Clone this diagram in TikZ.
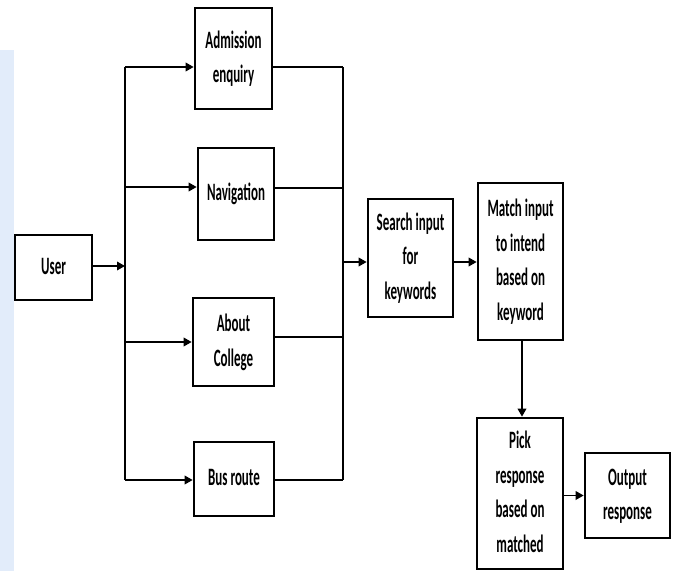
\documentclass[tikz,border=0pt]{standalone}
\usepackage{fontspec}
\setmainfont{Carlito}
\usetikzlibrary{arrows.meta,calc}
\definecolor{wmblue}{RGB}{226,236,250}
\newcommand{\sq}[1]{\scalebox{0.52}[1]{\renewcommand{\arraystretch}{1}\begin{tabular}{@{}c@{}}#1\end{tabular}}}
\tikzset{
  box/.style={draw=black, line width=2.6pt, rectangle, inner sep=0pt, align=center,
    font=\fontsize{25}{34.5}\selectfont\bfseries},
  conn/.style={draw=black, line width=1.8pt},
  arr/.style={conn, -{Triangle[length=8pt,width=8.5pt]}}
}
\begin{document}
\begin{tikzpicture}[x=1pt,y=-1pt]
\useasboundingbox (0,0) rectangle (678,571);
\fill[white] (0,0) rectangle (678,571);
\fill[wmblue] (0,50) rectangle (14,571);
% boxes
\node[box, minimum width=77pt, minimum height=65pt] (user) at (53.5,267.5) {\sq{User}};
\node[box, minimum width=77pt, minimum height=101pt] (adm) at (233.5,58.5) {\sq{Admission\\enquiry}};
\node[box, minimum width=76pt, minimum height=92pt] (nav) at (236,194) {\sq{Navigation}};
\node[box, minimum width=81pt, minimum height=88pt] (abt) at (233.5,342) {\sq{About\\College}};
\node[box, minimum width=80pt, minimum height=74pt] (bus) at (234,479) {\sq{Bus route}};
\node[box, minimum width=85pt, minimum height=118pt] (srch) at (410.5,258) {\sq{Search input\\for\\keywords}};
\node[box, minimum width=85pt, minimum height=157pt] (match) at (520.5,261.5) {\sq{Match input\\to intend\\based on\\keyword}};
\node[box, minimum width=86pt, minimum height=151pt] (pick) at (520,493.5) {\sq{Pick\\response\\based on\\matched}};
\node[box, minimum width=85pt, minimum height=85pt] (out) at (627.5,495.5) {\sq{Output\\response}};
% bus coordinates
\coordinate (lt) at (125,67);
\coordinate (lb) at (125,480);
\coordinate (lm) at (125,266);
\coordinate (l2) at (125,187);
\coordinate (l3) at (125,342);
\coordinate (rt) at (343,67);
\coordinate (rb) at (343,480);
\coordinate (r2) at (343,188);
\coordinate (r3) at (343,337);
\coordinate (rm) at (343,262);
% left bus
\draw[conn] (lt) -- (lb);
\draw[arr] (user.east |- lm) -- (lm);
\draw[arr] (lt) -- (lt -| adm.west);
\draw[arr] (l2) -- (l2 -| nav.west);
\draw[arr] (l3) -- (l3 -| abt.west);
\draw[arr] (lb) -- (lb -| bus.west);
% right bus
\draw[conn] (rt) -- (rb);
\draw[conn] (rt -| adm.east) -- (rt);
\draw[conn] (r2 -| nav.east) -- (r2);
\draw[conn] (r3 -| abt.east) -- (r3);
\draw[conn] (rb -| bus.east) -- (rb);
\draw[arr] (rm) -- (rm -| srch.west);
\draw[arr] (srch.east |- rm) -- (rm -| match.west);
\draw[arr] (match.south -| 522,0) -- (pick.north -| 522,0);
\draw[arr] (pick.east |- out) -- (out.west);
\end{tikzpicture}
\end{document}
